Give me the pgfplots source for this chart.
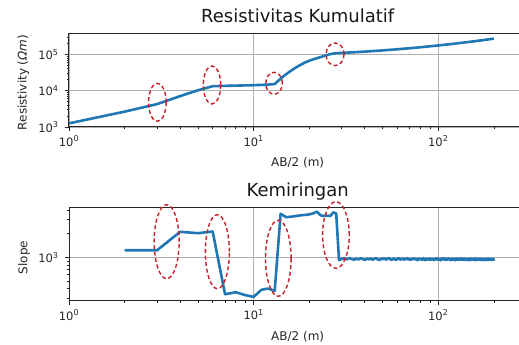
\documentclass[border=0pt]{standalone}
\usepackage{pgfplots}
\pgfplotsset{compat=1.18}
\usepackage{fontspec}
\setmainfont{DejaVu Sans}
\definecolor{mplblue}{HTML}{1F77B4}
\definecolor{ellred}{HTML}{C8202A}
\definecolor{gridgray}{HTML}{B0B0B0}
\tikzset{ellipsemark/.style={draw=ellred, line width=1.4pt, dash pattern=on 4pt off 2.6pt}}
\begin{document}
\begin{tikzpicture}
\useasboundingbox (0,0) rectangle (519pt,345pt);
% ---------- top ----------
\begin{axis}[
  xmode=log, ymode=log,
  scale only axis, width=457.4pt, height=93.3pt,
  at={(69pt,218pt)}, anchor=south west,
  xmin=1, xmax=300,
  ymin=1000, ymax=372000,
  axis line style={black!85, line width=1pt},
  tick align=outside, xtick pos=left, ytick pos=left,
  major tick length=4.3pt, minor tick length=2.5pt,
  major tick style={black!85, line width=0.9pt},
  minor tick style={black!85, line width=0.7pt},
  xmajorgrids, ymajorgrids, major grid style={gridgray, line width=0.9pt},
  xtick={1,10,100},
  xticklabels={10\textsuperscript{0},10\textsuperscript{1},10\textsuperscript{2}},
  minor xtick={2,3,4,5,6,7,8,9,20,30,40,50,60,70,80,90,200,300},
  ytick={1000,10000,100000},
  yticklabels={10\textsuperscript{3},10\textsuperscript{4},10\textsuperscript{5}},
  minor ytick={2000,3000,4000,5000,6000,7000,8000,9000,20000,30000,40000,50000,60000,70000,80000,90000,200000,300000},
  ticklabel style={font=\fontsize{11.5}{13}\selectfont, text=black!85},
  xticklabel style={anchor=north, inner sep=0pt, yshift=-4.5pt},
  yticklabel style={anchor=east, inner sep=0pt, xshift=-6pt},
  title={Resistivitas Kumulatif},
  title style={font=\fontsize{18}{21}\selectfont, text=black!90, at={(0.5,1)}, anchor=base, yshift=4.8pt},
  xlabel={AB/2 (m)},
  xlabel style={font=\fontsize{12}{14}\selectfont, text=black!85, at={(axis description cs:0.5,0)}, anchor=base, yshift=-39.5pt},
  ylabel={Resistivity ({\itshape Ωm})},
  ylabel style={font=\fontsize{12}{14}\selectfont, text=black!85, at={(axis description cs:-0.0929,0.477)}, anchor=base},
  clip=false,
]
\addplot[mplblue, line width=2.6pt, line join=round, mark=none] coordinates {
(1,1260) (2,2650) (3,4270) (4,7100) (5,10300) (6,13300) (7,13600) (8,13800)
(9,14000) (10,14200) (11,14450) (12,14700) (13,15300) (14,21500) (15,28500)
(16,36000) (17,44000) (18,52000) (19,60000) (20,67000) (21,73000) (22,78500)
(24,90000) (26,102000) (28,108000) (30,110000) (35,114650) (40,119400) (50,128900)
(60,138400) (70,147900) (80,157400) (100,176400) (120,195400) (150,223900)
(175,247650) (200,271400)
};
\draw[ellipsemark] (axis cs:3.01,4786) ellipse [x radius=8.8pt, y radius=19pt];
\draw[ellipsemark] (axis cs:5.95,14350) ellipse [x radius=8.7pt, y radius=19pt];
\draw[ellipsemark] (axis cs:12.9,16000) ellipse [x radius=8.3pt, y radius=11pt];
\draw[ellipsemark] (axis cs:27.6,100700) ellipse [x radius=9pt, y radius=11.3pt];
\end{axis}
% ---------- bottom ----------
\begin{axis}[
  xmode=log, ymode=log,
  scale only axis, width=457.4pt, height=93.4pt,
  at={(69pt,44.3pt)}, anchor=south west,
  xmin=1, xmax=300,
  ymin=280, ymax=4335,
  axis line style={black!85, line width=1pt},
  tick align=outside, xtick pos=left, ytick pos=left,
  major tick length=4.3pt, minor tick length=2.5pt,
  major tick style={black!85, line width=0.9pt},
  minor tick style={black!85, line width=0.7pt},
  xmajorgrids, ymajorgrids, major grid style={gridgray, line width=0.9pt},
  xtick={1,10,100},
  xticklabels={10\textsuperscript{0},10\textsuperscript{1},10\textsuperscript{2}},
  minor xtick={2,3,4,5,6,7,8,9,20,30,40,50,60,70,80,90,200,300},
  ytick={1000},
  yticklabels={10\textsuperscript{3}},
  minor ytick={300,400,500,600,700,800,900,2000,3000,4000},
  ticklabel style={font=\fontsize{11.5}{13}\selectfont, text=black!85},
  xticklabel style={anchor=north, inner sep=0pt, yshift=-4.5pt},
  yticklabel style={anchor=east, inner sep=0pt, xshift=-6pt},
  title={Kemiringan},
  title style={font=\fontsize{18}{21}\selectfont, text=black!90, at={(0.5,1)}, anchor=base, yshift=4.8pt},
  xlabel={AB/2 (m)},
  xlabel style={font=\fontsize{12}{14}\selectfont, text=black!85, at={(axis description cs:0.5,0)}, anchor=base, yshift=-39.5pt},
  ylabel={Slope},
  ylabel style={font=\fontsize{12}{14}\selectfont, text=black!85, at={(axis description cs:-0.0912,0.4625)}, anchor=base},
  clip=false,
]
\addplot[mplblue, line width=2.6pt, line join=round, mark=none] coordinates {
(2,1230) (3,1230) (4,2110) (5,2030) (6,2130) (7,338) (8,359) (9,330) (10,313)
(11,385) (12,400) (13,373) (14,3590) (15,3240) (16,3290) (17,3360) (18,3430)
(19,3470) (20,3520) (21,3630) (22,3810) (23,3430) (24,3360) (25,3400) (26,3360)
(27,3740) (28,3600) (29,920)
(30,954) (31,970) (32,942) (33,978) (34,948) (35,930) (36,964) (37,936) (38,974) (39,950)
(40,926) (41,958) (42,942) (43,968) (44,932) (45,952) (46,976) (47,940) (48,924) (49,960)
(50,946) (51,970) (52,934) (53,956) (54,980) (55,942) (56,928) (57,964) (58,950) (59,922)
(60,954) (61,978) (62,936) (63,946) (64,968) (65,930) (66,958) (67,942) (68,974) (69,932)
(70,950) (71,926) (72,964) (73,940) (74,970) (75,936) (76,954) (77,920) (78,948) (79,966)
(80,934) (81,956) (82,928) (83,972) (84,944) (85,918) (86,962) (87,938) (88,952) (89,926)
(90,968) (91,940) (92,930) (93,958) (94,946) (95,922) (96,964) (97,936) (98,950) (99,970)
(100,928) (101,954) (102,942) (103,916) (104,966) (105,938) (106,950) (107,974) (108,932) (109,946)
(110,960) (111,924) (112,952) (113,942) (114,970) (115,934) (116,918) (117,956) (118,944) (119,928)
(120,964) (121,940) (122,950) (123,914) (124,958) (125,946) (126,932) (127,968) (128,936) (129,924)
(130,954) (131,942) (132,972) (133,930) (134,948) (135,960) (136,926) (137,950) (138,938) (139,966)
(140,920) (141,952) (142,944) (143,930) (144,962) (145,936) (146,948) (147,914) (148,958) (149,942)
(150,932) (151,966) (152,924) (153,950) (154,940) (155,956) (156,928) (157,946) (158,970) (159,918)
(160,944) (161,954) (162,930) (163,962) (164,936) (165,926) (166,952) (167,940) (168,968) (169,922)
(170,948) (171,934) (172,958) (173,930) (174,944) (175,916) (176,954) (177,938) (178,928) (179,964)
(180,936) (181,946) (182,920) (183,956) (184,942) (185,932) (186,966) (187,924) (188,950) (189,938)
(190,954) (191,926) (192,944) (193,934) (194,960) (195,922) (196,948) (197,930) (198,942) (199,956)
(200,904)
};
\draw[ellipsemark] (axis cs:3.38,1581) ellipse [x radius=12.5pt, y radius=37pt];
\draw[ellipsemark] (axis cs:6.36,1178) ellipse [x radius=12pt, y radius=37pt];
\draw[ellipsemark] (axis cs:13.6,971) ellipse [x radius=12.8pt, y radius=38pt];
\draw[ellipsemark] (axis cs:27.9,1923) ellipse [x radius=13.3pt, y radius=33.3pt];
\end{axis}
\end{tikzpicture}
\end{document}
